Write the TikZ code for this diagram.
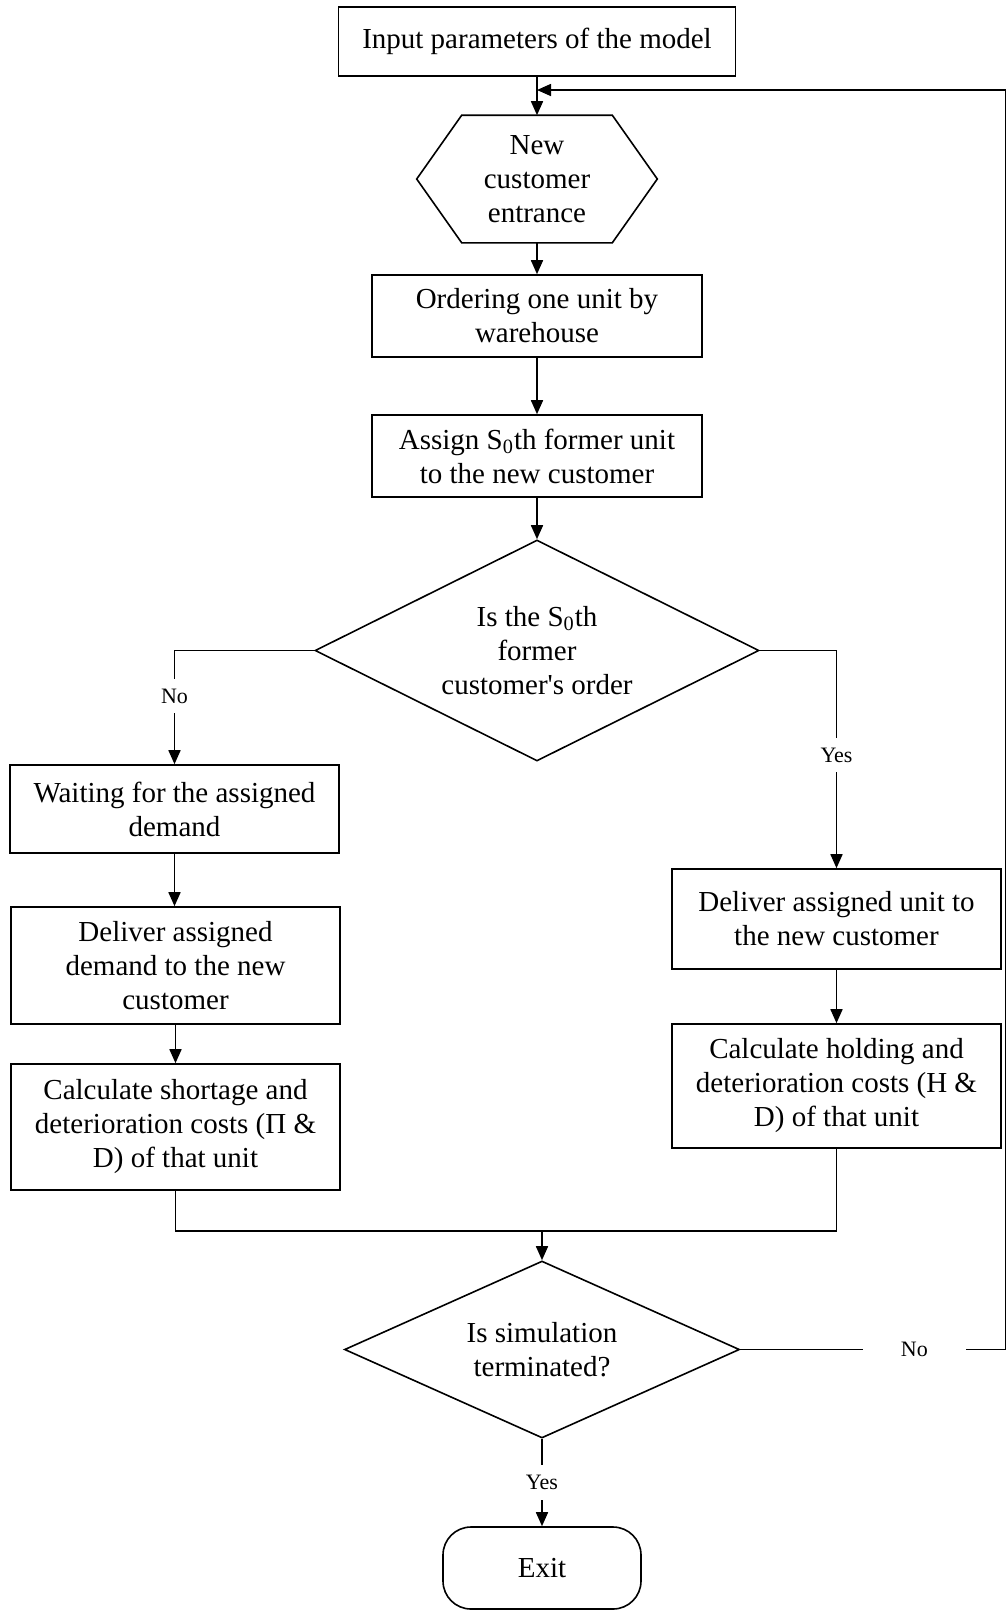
\documentclass[tikz,border=0pt]{standalone}
\usepackage{fontspec}
\setmainfont{Liberation Serif}
\usetikzlibrary{arrows.meta,shapes.geometric}

\begin{document}
\begin{tikzpicture}[
  x=0.5pt, y=-0.5pt,
  base/.style={draw, line width=0.8pt, align=center, inner sep=2pt, font=\fontsize{14.5}{17}\selectfont},
  box/.style={base, minimum width=164.5pt},
  cond/.style={base, diamond, aspect=2, inner sep=0pt},
  lbl/.style={fill=white, inner sep=5pt, font=\fontsize{11}{13}\selectfont},
  conn/.style={line width=0.8pt},
  arr/.style={conn, -{Triangle[length=7pt, width=6pt]}}
]
\useasboundingbox (0,0) rectangle (1006,1613);

% main column
\node[base, minimum width=198.5pt, minimum height=34.5pt] (inp) at (537,41.5) {Input parameters of the model};
\node[base, draw=none, minimum width=119.5pt, minimum height=63pt] (hex) at (537,179) {New\\customer\\entrance};
\draw[conn] (hex.west) -- ([xshift=22.5pt]hex.north west) -- ([xshift=-22.5pt]hex.north east)
  -- (hex.east) -- ([xshift=-22.5pt]hex.south east) -- ([xshift=22.5pt]hex.south west) -- cycle;
\node[box, minimum width=165pt, minimum height=41pt] (order) at (537,316) {Ordering one unit by\\warehouse};
\node[box, minimum width=165pt, minimum height=41pt] (assign) at (537,456) {Assign S\textsubscript{0}th former unit\\to the new customer};
\node[cond, minimum width=222pt, minimum height=110.5pt] (isorder) at (537,650.5) {Is the S\textsubscript{0}th\\former\\customer\textquotesingle s order};

% left branch
\node[box, minimum height=44pt] (wait) at (174.5,809) {Waiting for the assigned\\demand};
\node[box, minimum height=58.5pt] (delL) at (175.5,965.5) {Deliver assigned\\demand to the new\\customer};
\node[box, minimum height=63pt] (calcL) at (175.5,1127) {Calculate shortage and\\deterioration costs (Π \&\\D) of that unit};

% right branch
\node[box, minimum height=50pt] (delR) at (836.5,919) {Deliver assigned unit to\\the new customer};
\node[box, minimum height=62pt] (calcR) at (836.5,1086) {Calculate holding and\\deterioration costs (H \&\\D) of that unit};

% end
\node[cond, minimum width=197.5pt, minimum height=88.5pt] (isend) at (542,1349.5) {Is simulation\\terminated?};
\node[base, rounded corners=14pt, minimum width=99pt, minimum height=41pt] (exit) at (542,1568) {Exit};

\coordinate (merge) at (isend.north |- 0,1231);
\coordinate (fbB) at (1006,1349.5);
\coordinate (fbT) at (1006,90);
\coordinate (back) at (inp.south |- fbT);

\draw[arr] (inp.south) -- (hex.north);
\draw[arr] (hex.south) -- (order.north);
\draw[arr] (order.south) -- (assign.north);
\draw[arr] (assign.south) -- (isorder.north);
\draw[arr] (isorder.west) -| node[pos=0.7, lbl]{No} (wait.north);
\draw[arr] (wait.south) -- (wait.south |- delL.north);
\draw[arr] (delL.south) -- (calcL.north);
\draw[arr] (isorder.east) -| node[pos=0.74, lbl]{Yes} (delR.north);
\draw[arr] (delR.south) -- (calcR.north);
\draw[conn] (calcL.south) |- (merge) -| (calcR.south);
\draw[arr] (merge) -- (isend.north);
\draw[arr] (isend.south) -- node[lbl]{Yes} (exit.north);
\draw[conn] (isend.east) -- node[pos=0.655, lbl, inner xsep=19pt]{No} (fbB) -- (fbT);
\draw[arr] (fbT) -- (back);
\end{tikzpicture}
\end{document}
